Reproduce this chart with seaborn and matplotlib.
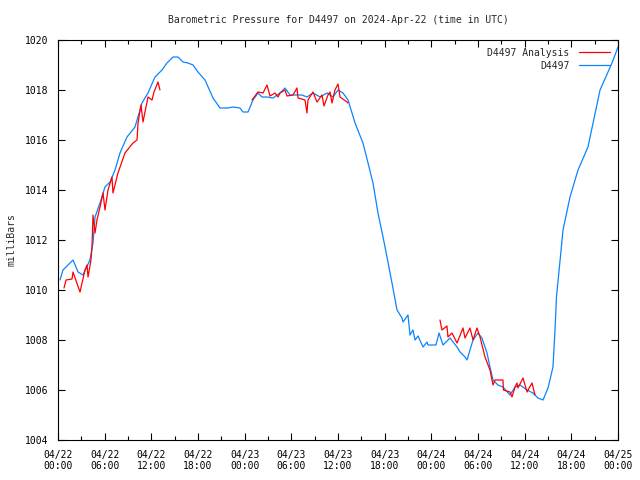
import pandas as pd
import numpy as np
import matplotlib
matplotlib.use("Agg")
import matplotlib.pyplot as plt
import matplotlib.dates as mdates
from matplotlib.lines import Line2D
import seaborn as sns

# hours after 2024-04-22 00:00 UTC
obs_hours = [0.26, 0.64, 1.93, 2.57, 3.21, 4.11, 4.5, 4.76, 5.4, 6.04, 6.69, 7.33, 7.97,
             8.87, 9.9, 10.8, 11.57, 12.47, 13.37, 14.01, 14.79, 15.43, 16.07, 16.71,
             17.36, 18.0, 18.9, 19.93, 20.83, 21.86, 22.5, 23.4, 23.79, 24.43, 25.07,
             25.71, 26.23, 26.87, 27.64, 28.54, 29.19, 29.83, 30.47, 31.37, 32.01, 32.79,
             33.69, 34.59, 35.36, 36.0, 36.64, 37.29, 38.19, 39.21, 39.86, 40.5, 41.14,
             41.79, 42.3, 42.94, 43.59, 44.23, 44.36, 45.0, 45.26, 45.64, 45.9, 46.29,
             46.93, 47.44, 47.57, 48.6, 48.99, 49.5, 50.4, 51.3, 51.69, 52.33, 52.59,
             52.97, 53.36, 54.0, 54.51, 55.16, 55.54, 55.93, 56.57, 57.21, 58.11, 58.76,
             59.4, 60.3, 61.07, 61.71, 62.36, 63.0, 63.64, 63.9, 64.09, 64.93, 65.83,
             66.86, 68.14, 69.69, 71.23, 72.0]
obs_mbar = [1010.4, 1010.8, 1011.2, 1010.72, 1010.6, 1011.2, 1011.88, 1012.92, 1013.48,
            1014.12, 1014.32, 1014.8, 1015.48, 1016.12, 1016.52, 1017.48, 1017.88,
            1018.52, 1018.8, 1019.08, 1019.32, 1019.32, 1019.12, 1019.08, 1019.0,
            1018.72, 1018.4, 1017.68, 1017.28, 1017.28, 1017.32, 1017.28, 1017.12,
            1017.12, 1017.6, 1017.88, 1017.72, 1017.72, 1017.68, 1017.88, 1018.08,
            1017.8, 1017.8, 1017.8, 1017.72, 1017.88, 1017.72, 1017.88, 1017.72, 1018.0,
            1017.88, 1017.6, 1016.68, 1015.88, 1015.08, 1014.28, 1013.08, 1012.12,
            1011.32, 1010.28, 1009.2, 1008.88, 1008.72, 1009.0, 1008.2, 1008.4, 1008.0,
            1008.16, 1007.72, 1007.92, 1007.8, 1007.8, 1008.28, 1007.8, 1008.08,
            1007.72, 1007.52, 1007.32, 1007.2, 1007.6, 1008.0, 1008.28, 1008.08,
            1007.48, 1006.92, 1006.4, 1006.2, 1006.12, 1005.8, 1006.12, 1006.2, 1006.0,
            1005.88, 1005.68, 1005.6, 1006.08, 1006.92, 1008.4, 1009.72, 1012.4,
            1013.72, 1014.8, 1015.72, 1018.0, 1019.08, 1019.72]

# analysis series, three separate runs
ana_hours_1 = [0.77, 1.03, 1.8, 1.93, 2.83, 3.09, 3.47, 3.73, 3.86, 4.24, 4.37, 4.5, 4.76,
               5.01, 5.4, 5.79, 6.04, 6.43, 6.94, 7.07, 7.71, 8.61, 9.64, 10.16, 10.29,
               10.67, 10.93, 11.57, 12.09, 12.34, 12.86, 13.11]
ana_mbar_1 = [1010.08, 1010.4, 1010.44, 1010.72, 1009.92, 1010.28, 1010.8, 1011.0, 1010.52,
              1011.2, 1011.72, 1013.0, 1012.28, 1012.8, 1013.32, 1013.88, 1013.2, 1014.0,
              1014.52, 1013.88, 1014.68, 1015.48, 1015.88, 1016.0, 1016.68, 1017.4,
              1016.72, 1017.72, 1017.6, 1017.92, 1018.32, 1018.0]
ana_hours_2 = [24.94, 25.71, 26.36, 26.87, 27.26, 27.9, 28.29, 28.54, 29.19, 29.44, 30.21,
               30.73, 30.86, 31.76, 32.01, 32.14, 32.79, 33.3, 33.94, 34.2, 34.71, 34.97,
               35.23, 35.61, 36.0, 36.26, 37.16, 37.29]
ana_mbar_2 = [1017.6, 1017.92, 1017.88, 1018.2, 1017.76, 1017.88, 1017.72, 1017.88, 1018.0,
              1017.76, 1017.8, 1018.08, 1017.68, 1017.6, 1017.08, 1017.6, 1017.92, 1017.52,
              1017.8, 1017.36, 1017.8, 1017.92, 1017.48, 1018.0, 1018.24, 1017.72,
              1017.52, 1017.48]
ana_hours_3 = [49.11, 49.37, 50.01, 50.14, 50.66, 51.3, 52.07, 52.33, 52.97, 53.36, 53.87,
               54.26, 54.9, 55.54, 55.93, 56.19, 57.21, 57.27, 58.11, 58.37, 58.76, 59.01,
               59.14, 59.79, 60.3, 60.94, 61.33]
ana_mbar_3 = [1008.8, 1008.4, 1008.56, 1008.12, 1008.28, 1007.88, 1008.48, 1008.08, 1008.48,
              1008.0, 1008.48, 1008.12, 1007.32, 1006.8, 1006.2, 1006.4, 1006.4, 1006.0,
              1005.92, 1005.72, 1006.12, 1006.28, 1006.08, 1006.48, 1005.92, 1006.28,
              1005.8]

y_ticks = [1004, 1006, 1008, 1010, 1012, 1014, 1016, 1018, 1020]

start = pd.Timestamp("2024-04-22 00:00")
obs = pd.DataFrame({"time": start + pd.to_timedelta(obs_hours, unit="h"), "mbar": obs_mbar})
ana = pd.concat([
    pd.DataFrame({"time": start + pd.to_timedelta(h, unit="h"), "mbar": m, "run": i})
    for i, (h, m) in enumerate([(ana_hours_1, ana_mbar_1),
                                (ana_hours_2, ana_mbar_2),
                                (ana_hours_3, ana_mbar_3)])
])

sns.set_style("ticks")
plt.rcParams["font.family"] = ["DejaVu Sans Mono"]
plt.rcParams["font.size"] = 7

red = "#ff0000"
blue = "#0a84ff"

fig = plt.figure(figsize=(6.4, 4.8), dpi=100)
ax = fig.add_axes([58 / 640, 40 / 480, 560 / 640, 400 / 480])

sns.lineplot(data=obs, x="time", y="mbar", color=blue, linewidth=0.9, ax=ax)
sns.lineplot(data=ana, x="time", y="mbar", units="run", estimator=None,
             color=red, linewidth=0.9, ax=ax)

ax.set_xlim(start, start + pd.Timedelta(hours=72))
ax.set_ylim(1004, 1020)
ax.set_yticks(y_ticks)
ax.xaxis.set_major_locator(mdates.HourLocator(byhour=[0, 6, 12, 18]))
ax.xaxis.set_minor_locator(mdates.HourLocator(byhour=[3, 9, 15, 21]))
ax.xaxis.set_major_formatter(mdates.DateFormatter("%m/%d\n%H:%M"))

ax.tick_params(axis="both", which="both", direction="in", top=True, right=True,
               colors="black", labelsize=7, width=0.8)
ax.tick_params(axis="y", which="major", length=5, pad=7)
ax.tick_params(axis="x", which="major", length=5, pad=7)
ax.tick_params(axis="x", which="minor", length=3)
for s in ax.spines.values():
    s.set_linewidth(0.8)
    s.set_color("black")

ax.set_xlabel("")
ax.set_ylabel("milliBars", fontsize=7, labelpad=6)
ax.set_title("Barometric Pressure for D4497 on 2024-Apr-22 (time in UTC)",
             fontsize=7, pad=12)

handles = [Line2D([], [], color=red, linewidth=0.9),
           Line2D([], [], color=blue, linewidth=0.9)]
ax.legend(handles, ["D4497 Analysis", "D4497"], loc="upper right", frameon=False,
          markerfirst=False, handlelength=3.2, handletextpad=1.0, labelspacing=0.3,
          borderaxespad=0.4, fontsize=7)

fig.savefig("out.png", dpi=100)
